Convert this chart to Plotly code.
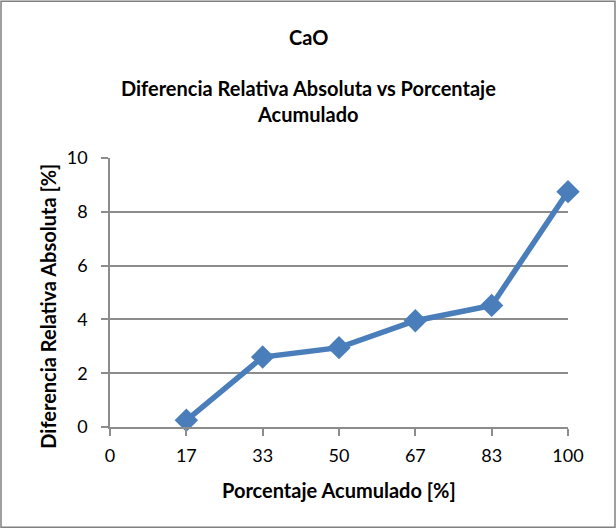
import plotly.graph_objects as go

x_vals = [16.67, 33.33, 50, 66.67, 83.33, 100]
y_vals = [0.25, 2.6, 2.95, 3.95, 4.52, 8.75]
x_tickvals = [0, 16.67, 33.33, 50, 66.67, 83.33, 100]
x_ticktext = ["0", "17", "33", "50", "67", "83", "100"]
y_tickvals = [0, 2, 4, 6, 8, 10]

W, H = 616, 529
L, R, T, B = 110, 48, 158, 101.5
pw, ph = W - L - R, H - T - B

def px_x(x):
    return (x - L) / pw

def px_y(y):
    return (H - B - y) / ph

FONT = "Lato"
fig = go.Figure()
fig.add_trace(go.Scatter(
    x=x_vals, y=y_vals, mode="lines+markers",
    line=dict(color="#4A7EBB", width=5.5),
    marker=dict(symbol="diamond", size=18, color="#4A7EBB"),
    showlegend=False, cliponaxis=False,
))

grid = "#8C8C8C"
fig.update_layout(
    width=W, height=H,
    margin=dict(l=L, r=R, t=T, b=B),
    paper_bgcolor="white", plot_bgcolor="white",
    font=dict(family=FONT, color="black"),
    xaxis=dict(range=[0, 100], tickvals=x_tickvals, ticktext=x_ticktext,
               showgrid=False, zeroline=False, showline=True, linecolor=grid, linewidth=1.5,
               ticks="outside", ticklen=7, tickcolor=grid, tickwidth=1.5,
               ticklabelstandoff=5,
               tickfont=dict(size=18, family=FONT), fixedrange=True),
    yaxis=dict(range=[0, 10], tickvals=y_tickvals,
               showgrid=True, gridcolor=grid, gridwidth=1.5, zeroline=False,
               showline=True, linecolor=grid, linewidth=1.5,
               ticks="outside", ticklen=7, tickcolor=grid, tickwidth=1.5,
               ticklabelstandoff=10,
               tickfont=dict(size=18, family=FONT)),
)

titles = [("<b>CaO</b>", 308, 37), ("<b>Diferencia Relativa Absoluta vs Porcentaje</b>", 308, 88),
          ("<b>Acumulado</b>", 308, 114), ("<b>Porcentaje Acumulado [%]</b>", 339, 491)]
for text, xpix, ypix in titles:
    fig.add_annotation(text=text, xref="paper", yref="paper", x=px_x(xpix), y=px_y(ypix),
                       xanchor="center", yanchor="middle", showarrow=False,
                       font=dict(size=20, family=FONT, color="black"))

fig.add_annotation(text="<b>Diferencia Relativa Absoluta [%]</b>", xref="paper", yref="paper",
                   x=px_x(48), y=px_y(307), xanchor="center", yanchor="middle", textangle=-90,
                   showarrow=False, font=dict(size=20, family=FONT, color="black"))

fig.add_shape(type="rect", xref="paper", yref="paper",
              x0=px_x(1), x1=px_x(W - 1), y0=px_y(H - 1), y1=px_y(1),
              line=dict(color="#808080", width=1.5), layer="below")

fig.write_html("out.html", config={"displayModeBar": False},
               post_script="document.body.style.margin='0';document.body.style.padding='0';")
